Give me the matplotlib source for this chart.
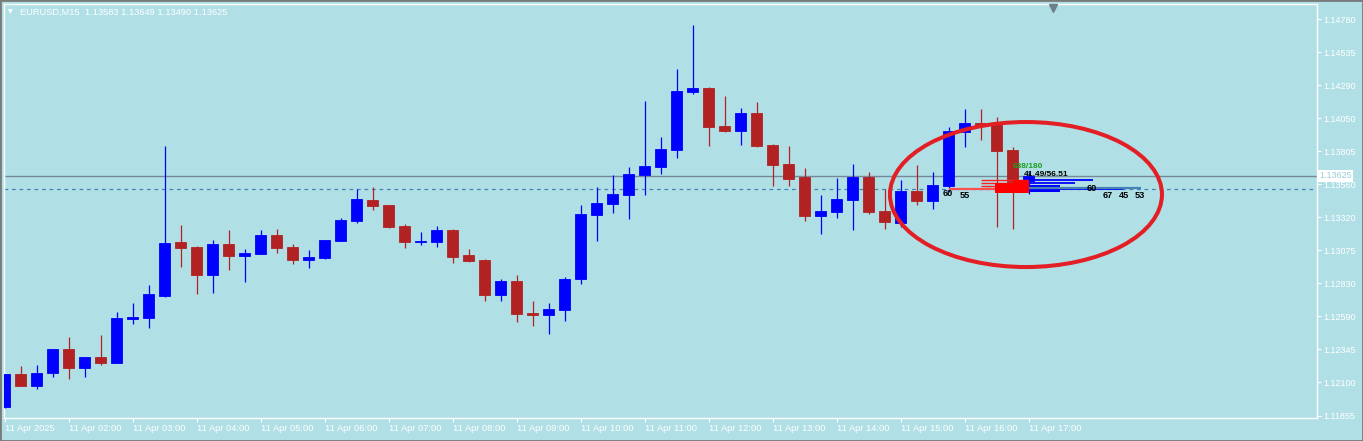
import matplotlib
matplotlib.use("Agg")
import matplotlib.pyplot as plt
from matplotlib.patches import Ellipse, Rectangle
from matplotlib.transforms import blended_transform_factory
import numpy as np

plt.rcParams['font.family'] = ['Liberation Sans', 'DejaVu Sans']

# ---------------- data (EURUSD M15, 11 Apr 2025, 01:00 .. 17:00) ----------------
opens = [1.11921, 1.12162, 1.12076, 1.12172, 1.12347, 1.12209, 1.12288, 1.12246,
         1.12568, 1.12575, 1.12738, 1.13136, 1.13099, 1.12895, 1.13121, 1.13035,
         1.13049, 1.13187, 1.13099, 1.13005, 1.13020, 1.13145, 1.13291, 1.13445,
         1.13409, 1.13254, 1.13133, 1.13138, 1.13224, 1.13038, 1.13003, 1.12747,
         1.12848, 1.12614, 1.12600, 1.12637, 1.12865, 1.13337, 1.13418, 1.13484,
         1.13632, 1.13691, 1.13816, 1.14244, 1.14273, 1.13991, 1.13956, 1.14087,
         1.13853, 1.13713, 1.13617, 1.13330, 1.13359, 1.13448, 1.13617, 1.13364,
         1.13278, 1.13512, 1.13440, 1.13549, 1.13949, 1.14013, 1.14006, 1.13814,
         1.13583]
highs = [1.12162, 1.12221, 1.12229, 1.12347, 1.12435, 1.12288, 1.12450, 1.12620,
         1.12686, 1.12819, 1.13844, 1.13261, 1.13106, 1.13150, 1.13224, 1.13084,
         1.13224, 1.13232, 1.13121, 1.13077, 1.13150, 1.13313, 1.13527, 1.13541,
         1.13412, 1.13268, 1.13209, 1.13254, 1.13232, 1.13084, 1.13010, 1.12863,
         1.12892, 1.12703, 1.12688, 1.12880, 1.13408, 1.13541, 1.13630, 1.13689,
         1.14175, 1.13910, 1.14411, 1.14738, 1.14276, 1.14212, 1.14124, 1.14168,
         1.13856, 1.13846, 1.13681, 1.13482, 1.13608, 1.13711, 1.13652, 1.13527,
         1.13593, 1.13703, 1.13652, 1.13984, 1.14116, 1.14116, 1.14057, 1.13838,
         1.13649]
lows = [1.11915, 1.12074, 1.12054, 1.12142, 1.12128, 1.12142, 1.12231, 1.12244,
        1.12533, 1.12504, 1.12732, 1.12951, 1.12754, 1.12762, 1.12931, 1.12843,
        1.13045, 1.13057, 1.12976, 1.12946, 1.13013, 1.13140, 1.13278, 1.13372,
        1.13239, 1.13094, 1.13116, 1.13101, 1.12983, 1.12990, 1.12703, 1.12703,
        1.12548, 1.12519, 1.12460, 1.12555, 1.12828, 1.13145, 1.13352, 1.13307,
        1.13484, 1.13639, 1.13757, 1.14229, 1.13846, 1.13949, 1.13853, 1.13838,
        1.13551, 1.13551, 1.13293, 1.13197, 1.13315, 1.13226, 1.13344, 1.13234,
        1.13249, 1.13411, 1.13381, 1.13507, 1.13838, 1.13888, 1.13249, 1.13234,
        1.13490]
closes = [1.12162, 1.12076, 1.12170, 1.12347, 1.12209, 1.12288, 1.12246, 1.12575,
          1.12583, 1.12752, 1.13128, 1.13091, 1.12895, 1.13121, 1.13035, 1.13055,
          1.13187, 1.13094, 1.13005, 1.13025, 1.13150, 1.13298, 1.13453, 1.13401,
          1.13246, 1.13138, 1.13145, 1.13224, 1.13027, 1.12998, 1.12747, 1.12848,
          1.12607, 1.12600, 1.12639, 1.12863, 1.13342, 1.13423, 1.13490, 1.13637,
          1.13698, 1.13821, 1.14251, 1.14273, 1.13986, 1.13956, 1.14087, 1.13846,
          1.13706, 1.13602, 1.13330, 1.13364, 1.13453, 1.13617, 1.13359, 1.13285,
          1.13512, 1.13440, 1.13556, 1.13954, 1.14013, 1.13995, 1.13809, 1.13580,
          1.13625]

time_labels = ["11 Apr 2025", "11 Apr 02:00", "11 Apr 03:00", "11 Apr 04:00",
               "11 Apr 05:00", "11 Apr 06:00", "11 Apr 07:00", "11 Apr 08:00",
               "11 Apr 09:00", "11 Apr 10:00", "11 Apr 11:00", "11 Apr 12:00",
               "11 Apr 13:00", "11 Apr 14:00", "11 Apr 15:00", "11 Apr 16:00",
               "11 Apr 17:00"]
bars_per_label = 4

price_ticks = [1.14780, 1.14535, 1.14290, 1.14050, 1.13805, 1.13560, 1.13320,
               1.13075, 1.12830, 1.12590, 1.12345, 1.12100, 1.11855]
price_tick_labels = ["1.14780", "1.14535", "1.14290", "1.14050", "1.13805",
                     "1.13560", "1.13320", "1.13075", "1.12830", "1.12590",
                     "1.12345", "1.12100", "1.11855"]

symbol_title = "EURUSD,M15  1.13583 1.13649 1.13490 1.13625"
last_price = 1.13625
dashed_level = 1.13527
ymin, ymax = 1.11838, 1.14891

# order-flow profile of the last bar (lengths in bars)
anchor_bar = 64
sell_line_prices = [1.13593, 1.13569, 1.13549]
sell_line_lengths = [3.0, 3.0, 3.0]
sell_long_price = 1.13530
sell_long_length = 5.0
sell_block_lo = [1.13495, 1.13571]
sell_block_hi = [1.13571, 1.13593]
sell_block_len = [2.1, 0.97]
buy_line_prices = [1.13590, 1.13569, 1.13525]
buy_line_lengths = [4.0, 2.9, 5.9]
buy_long_price = 1.13534
buy_long_length = 7.0
buy_block_lo = [1.13507]
buy_block_hi = [1.13556]
buy_block_len = [1.97]

# indicator texts
label_texts = ["60", "55", "638/180", "41.49/56.51", "60", "67", "45", "53"]
label_x = [58.97, 60.0, 63.97, 65.1, 67.97, 68.95, 69.95, 70.97]
label_y = [1.13493, 1.13482, 1.13690, 1.13630, 1.13534, 1.13479, 1.13479, 1.13479]
label_colors = ["black", "black", "#1E9E1E", "black", "black", "black", "black", "black"]
label_sizes = [6.6, 6.6, 6.0, 6.0, 6.6, 6.6, 6.6, 6.6]

ellipse_center = (63.84, 1.13486)
ellipse_w, ellipse_h = 17.0, 0.010692

shift_marker_bar = 65.5

# ---------------- style ----------------
BG = "#B0E0E6"
BULL = "#0000FF"
BEAR = "#B22222"
W, H = 1363, 441

fig = plt.figure(figsize=(W / 100, H / 100), dpi=100, facecolor=BG)
ax = fig.add_axes([4 / W, 23 / H, 1313 / W, 414 / H])
ax.set_facecolor(BG)

n = len(opens)
idx = np.arange(n)
o = np.array(opens); c = np.array(closes); hi = np.array(highs); lo = np.array(lows)
colors = np.where(c >= o, BULL, BEAR)

ax.vlines(idx, lo, hi, colors=colors, linewidth=0.9, zorder=3)
ax.bar(idx, c - o, bottom=o, width=0.69, color=colors, edgecolor=colors,
       linewidth=0.6, zorder=4)

# lines
ax.axhline(last_price, color="#778899", linewidth=1.0, zorder=2)
ax.axhline(dashed_level, color="#4682B4", linewidth=0.9, linestyle=(0, (3, 3)), zorder=2)

# profile
ax.hlines(sell_line_prices, anchor_bar - np.array(sell_line_lengths), anchor_bar,
          colors="#FF2020", linewidth=1.0, zorder=5)
ax.hlines([sell_long_price], anchor_bar - sell_long_length, anchor_bar,
          colors="#FF5050", linewidth=1.6, zorder=5)
for l, h_, ln in zip(sell_block_lo, sell_block_hi, sell_block_len):
    ax.fill_between([anchor_bar - ln, anchor_bar], l, h_, color="#FF0000", lw=0, zorder=5)
for l, h_, ln in zip(buy_block_lo, buy_block_hi, buy_block_len):
    ax.fill_between([anchor_bar, anchor_bar + ln], l, h_, color="#0000FF", lw=0, zorder=5)
ax.hlines(buy_line_prices, anchor_bar, anchor_bar + np.array(buy_line_lengths),
          colors="#0000FF", linewidth=1.3, zorder=5)
ax.hlines([buy_long_price], anchor_bar, anchor_bar + buy_long_length,
          colors="#4682B4", linewidth=1.6, zorder=5)

for t, x, y, col, fs in zip(label_texts, label_x, label_y, label_colors, label_sizes):
    ax.text(x, y, t, color=col, fontsize=fs, fontweight="bold", ha="center",
            va="center", zorder=7)

ax.add_patch(Ellipse(ellipse_center, ellipse_w, ellipse_h, fill=False,
                     edgecolor="#E31E24", linewidth=2.9, zorder=8))

# axes
ax.set_xlim(-0.03125, 82.03)
ax.set_ylim(ymin, ymax)
for s in ax.spines.values():
    s.set_color("white"); s.set_linewidth(1.0)

ax.set_xticks(np.arange(len(time_labels)) * bars_per_label)
ax.set_xticklabels(time_labels)
for lbl in ax.get_xticklabels():
    lbl.set_ha("left")
ax.tick_params(axis="x", colors="white", labelcolor="white", labelsize=6.7,
               length=3, width=0.8, pad=1.5)

ax.yaxis.tick_right()
ax.set_yticks(price_ticks)
ax.set_yticklabels(price_tick_labels)
ax.tick_params(axis="y", colors="white", labelcolor="white", labelsize=6.5,
               length=3, width=0.8, pad=1.5)

# current price label
ax.text(1.0015, last_price, f"{last_price:.5f}",
        transform=blended_transform_factory(ax.transAxes, ax.transData),
        ha="left", va="center", fontsize=6.5, color="#9CCCD4", zorder=10, clip_on=False,
        bbox=dict(boxstyle="square,pad=0.18", facecolor="white", edgecolor="none"))

# chart shift marker
tr = blended_transform_factory(ax.transData, ax.transAxes)
ax.plot([shift_marker_bar], [0.9915], marker="v", markersize=6, color="#6E7F8A",
        transform=tr, clip_on=False, zorder=10)

# header
fig.text(8 / W, 1 - 12 / H, "\u25BC", fontsize=4.5, color="white", ha="left", va="center",
         family="DejaVu Sans")
fig.text(20 / W, 1 - 12 / H, symbol_title, fontsize=6.7, color="white", ha="left", va="center")

# outer border
fig.add_artist(Rectangle((0, 0), 1, 1, transform=fig.transFigure, fill=False,
                         edgecolor="#7A7A7A", linewidth=2.0))

fig.savefig("out.png", dpi=100, facecolor=BG)
